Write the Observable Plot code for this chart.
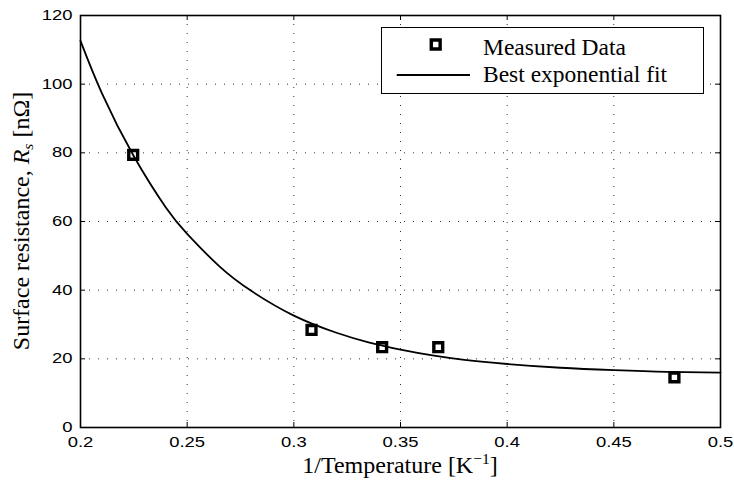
<!DOCTYPE html>
<html>
<head>
<meta charset="utf-8">
<script src="https://cdn.jsdelivr.net/npm/d3@7"></script>
<script src="https://cdn.jsdelivr.net/npm/@observablehq/plot@0.6"></script>
<style>
  html, body { margin: 0; padding: 0; background: #fff; }
  #chart { width: 734px; height: 480px; }
</style>
</head>
<body>
<div id="chart"></div>
<script>
// ---- Data ----
const xTicks = [0.2, 0.25, 0.3, 0.35, 0.4, 0.45, 0.5];
const xTickLabels = ["0.2", "0.25", "0.3", "0.35", "0.4", "0.45", "0.5"];
const yTicks = [0, 20, 40, 60, 80, 100, 120];
const yTickLabels = ["0", "20", "40", "60", "80", "100", "120"];

const measuredX = [0.2247, 0.3083, 0.3414, 0.3677, 0.4784];
const measuredY = [79.4, 28.4, 23.4, 23.4, 14.6];

const fitX = [0.200, 0.210, 0.225, 0.240, 0.250, 0.265, 0.280, 0.300, 0.320, 0.335, 0.350, 0.365, 0.380, 0.400, 0.425, 0.450, 0.475, 0.500];
const fitY = [112.6, 97.4, 79.0, 64.1, 56.4, 47.0, 39.8, 32.6, 27.6, 24.8, 22.7, 21.0, 19.7, 18.5, 17.4, 16.7, 16.2, 16.0];

const xLabel = "1/Temperature [K";
const xLabelSup = "\u22121";
const yLabelParts = ["Surface resistance, ", "R", "s", " [n\u03A9]"];
const legendLabels = ["Measured Data", "Best exponential fit"];

// ---- Build tables ----
const measured = measuredX.map((x, i) => ({x, y: measuredY[i]}));
const fit = fitX.map((x, i) => ({x, y: fitY[i]}));

const W = 734, H = 480;
const mL = 80, mR = 14, mT = 15, mB = 53;
const innerW = W - mL - mR, innerH = H - mT - mB;
const grid = {stroke: "#333", strokeOpacity: 1, strokeWidth: 1, strokeDasharray: "1,8"};

const plot = Plot.plot({
  width: W,
  height: H,
  marginLeft: mL,
  marginRight: mR,
  marginTop: mT,
  marginBottom: mB,
  style: {background: "#fff", color: "#000", fontFamily: "'Liberation Sans', Arial, sans-serif", fontSize: "14.5px"},
  x: {domain: [0.2, 0.5]},
  y: {domain: [0, 120]},
  marks: [
    Plot.gridX(xTicks, grid),
    Plot.gridY(yTicks, grid),
    // inward ticks on all four sides
    Plot.tickX(xTicks, {x: d => d, insetTop: innerH - 5, strokeWidth: 1}),
    Plot.tickX(xTicks, {x: d => d, insetBottom: innerH - 5, strokeWidth: 1}),
    Plot.tickY(yTicks, {y: d => d, insetRight: innerW - 5, strokeWidth: 1}),
    Plot.tickY(yTicks, {y: d => d, insetLeft: innerW - 5, strokeWidth: 1}),
    Plot.axisX({ticks: xTicks, tickSize: 0, tickPadding: 9, tickFormat: (d) => xTickLabels[xTicks.indexOf(d)], label: null, fontSize: 14.5}),
    Plot.axisY({ticks: yTicks, tickSize: 0, tickPadding: 8, tickFormat: (d) => yTickLabels[yTicks.indexOf(d)], label: null, fontSize: 14.5}),
    Plot.dot(measured, {x: "x", y: "y", symbol: "square", r: 5, fill: "white", stroke: "black", strokeWidth: 3.4}),
    Plot.line(fit, {x: "x", y: "y", curve: "natural", stroke: "black", strokeWidth: 1.8}),
    Plot.frame({stroke: "black", strokeWidth: 1.6})
  ]
});

document.getElementById("chart").appendChild(plot);

const svg = d3.select(plot);
// Stretch tick labels horizontally like the reference
svg.selectAll('[aria-label="x-axis tick label"] text, [aria-label="y-axis tick label"] text').each(function() {
  const w = this.getComputedTextLength();
  this.setAttribute("textLength", (w * 1.27).toFixed(1));
  this.setAttribute("lengthAdjust", "spacingAndGlyphs");
});

const serif = "'Liberation Serif', 'Times New Roman', serif";

// X axis title
const xt = svg.append("text")
  .attr("x", mL + innerW / 2)
  .attr("y", 473)
  .attr("text-anchor", "middle")
  .attr("font-family", serif)
  .attr("font-size", 24)
  .attr("fill", "black");
xt.append("tspan").text(xLabel);
xt.append("tspan").attr("dy", -9).attr("font-size", 15.5).text(xLabelSup);
xt.append("tspan").attr("dy", 9).text("]");

// Y axis title
const yt = svg.append("text")
  .attr("transform", `translate(28.5,${mT + innerH / 2}) rotate(-90)`)
  .attr("text-anchor", "middle")
  .attr("font-family", serif)
  .attr("font-size", 24)
  .attr("fill", "black");
yt.append("tspan").text(yLabelParts[0]);
yt.append("tspan").attr("font-style", "italic").text(yLabelParts[1]);
yt.append("tspan").attr("font-style", "italic").attr("font-size", 15.5).attr("dy", 4).text(yLabelParts[2]);
yt.append("tspan").attr("dy", -4).text(yLabelParts[3]);

// Legend
const lg = svg.append("g").attr("aria-label", "legend").attr("text-anchor", "start");
lg.append("rect")
  .attr("x", 381.5).attr("y", 27.5).attr("width", 322).attr("height", 66)
  .attr("fill", "white").attr("stroke", "black").attr("stroke-width", 1);
const sym = d3.symbol(d3.symbolSquare, 5 * 5 * Math.PI)();
lg.append("path").attr("d", sym).attr("transform", "translate(435.7,44.5)")
  .attr("fill", "white").attr("stroke", "black").attr("stroke-width", 3.4);
lg.append("line").attr("x1", 396.7).attr("x2", 470).attr("y1", 75).attr("y2", 75)
  .attr("stroke", "black").attr("stroke-width", 1.8);
lg.append("text").attr("x", 483).attr("y", 55).attr("text-anchor", "start").attr("font-family", serif).attr("font-size", 23.5).attr("fill", "black").text(legendLabels[0]);
lg.append("text").attr("x", 483).attr("y", 82).attr("text-anchor", "start").attr("font-family", serif).attr("font-size", 23.5).attr("fill", "black").text(legendLabels[1]);
</script>
</body>
</html>
